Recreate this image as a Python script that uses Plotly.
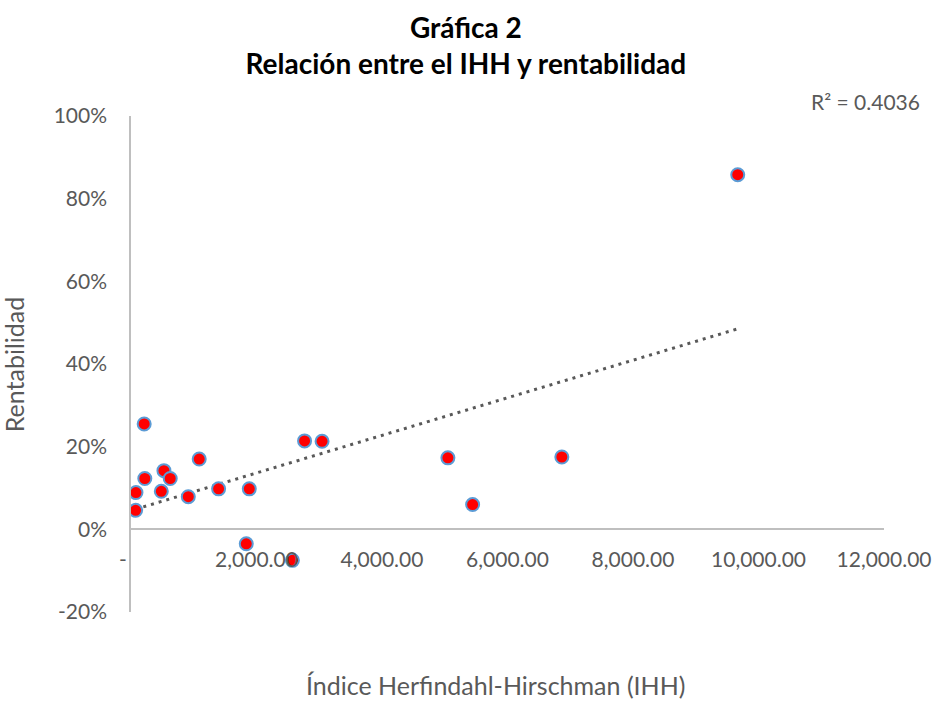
import numpy as np
import plotly.graph_objects as go

# Data: Índice Herfindahl-Hirschman (IHH) vs rentabilidad (%)
ihh = [74, 79, 210, 220, 483, 525, 625, 913, 1087, 1396, 1885, 1837, 2572,
       2766, 3045, 5050, 5444, 6866, 9669]
rent = [4.6, 8.9, 25.5, 12.3, 9.2, 14.2, 12.3, 7.9, 17.0, 9.8, 9.8, -3.5, -7.5,
        21.4, 21.3, 17.3, 6.0, 17.5, 85.8]

x_tickvals = [0, 2000, 4000, 6000, 8000, 10000, 12000]
x_ticktext = ["-\u00a0\u00a0\u00a0", "2,000.00", "4,000.00", "6,000.00",
              "8,000.00", "10,000.00", "12,000.00"]
y_tickvals = [-20, 0, 20, 40, 60, 80, 100]
y_ticktext = ["-20%", "0%", "20%", "40%", "60%", "80%", "100%"]

r2_text = "R² = 0.4036"

# Linear trendline fitted on the data (as Excel does)
slope, intercept = np.polyfit(ihh, rent, 1)
tx = [min(ihh), max(ihh)]
ty = [slope * v + intercept for v in tx]

GRAY = "#595959"
FONT = "Lato"

fig = go.Figure()
fig.add_trace(go.Scatter(
    x=tx, y=ty, mode="lines",
    line=dict(color=GRAY, width=3, dash="3px,5px"),
    hoverinfo="skip", showlegend=False))
fig.add_trace(go.Scatter(
    x=ihh, y=rent, mode="markers",
    marker=dict(color="#ff0000", size=13, line=dict(color="#5b9bd5", width=2)),
    showlegend=False))

fig.update_layout(
    width=943, height=702,
    margin=dict(l=131, r=50, t=116, b=90),
    paper_bgcolor="white", plot_bgcolor="white",
    font=dict(family=FONT, color=GRAY, size=21),
    title=dict(
        text="<b>Gráfica 2<br>Relación entre el IHH y rentabilidad</b>",
        x=0.494, xanchor="center", y=0.946, yanchor="top",
        font=dict(family=FONT, size=28, color="black")),
    xaxis=dict(
        range=[0, 12000], tickvals=x_tickvals, ticktext=x_ticktext,
        showgrid=False, zeroline=False, showline=True, linecolor="#bfbfbf",
        linewidth=1.5, anchor="free", position=1/6, ticks="",
        tickfont=dict(size=21, color=GRAY), ticklabelstandoff=12,
        ticklabeloverflow="allow"),
    yaxis=dict(
        range=[-20, 100], tickvals=y_tickvals, ticktext=y_ticktext,
        showgrid=False, zeroline=False, showline=True, linecolor="#bfbfbf",
        linewidth=1.5, ticks="", tickfont=dict(size=21, color=GRAY),
        ticklabelstandoff=18, ticklabeloverflow="allow"),
    annotations=[
        dict(text=r2_text, xref="paper", yref="paper", x=1.05, y=1.03,
             xanchor="right", yanchor="middle", showarrow=False,
             font=dict(size=21, color=GRAY)),
        dict(text="Índice Herfindahl-Hirschman (IHH)", xref="paper", yref="paper",
             x=0.484, y=-0.148, xanchor="center", yanchor="middle", showarrow=False,
             font=dict(size=25, color=GRAY)),
        dict(text="Rentabilidad", xref="paper", yref="paper",
             x=-0.155, y=0.5, xanchor="center", yanchor="middle", showarrow=False,
             textangle=-90, font=dict(size=25, color=GRAY)),
    ],
)

fig.write_html("out.html", config={"displayModeBar": False},
               post_script="document.body.style.margin='0';")
